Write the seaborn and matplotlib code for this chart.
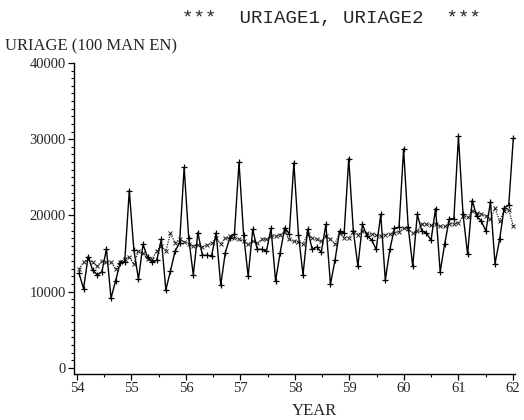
import numpy as np
import pandas as pd
import matplotlib
matplotlib.use("Agg")
import matplotlib.pyplot as plt
import seaborn as sns
from matplotlib.ticker import MultipleLocator

# monthly sales, 96 months from year 54 to 62 (100 man en)
uriage1 = [
    12400, 10400, 14600, 12800, 12200, 12600, 15600, 9150, 11400, 13800, 13950, 23260,
    15500, 11630, 16200, 14500, 13950, 14100, 16860, 10240, 12700, 15300, 16400, 26300,
    17000, 12200, 17730, 14770, 14770, 14700, 17730, 10850, 15120, 17080, 17600, 26960,
    17500, 12020, 18170, 15550, 15550, 15330, 18300, 11410, 15120, 18380, 17600, 26870,
    17500, 12200, 18170, 15550, 15860, 15200, 18820, 10980, 14150, 17950, 17730, 27450,
    18000, 13370, 18820, 17300, 16800, 15550, 20130, 11540, 15550, 18300, 18470, 28710,
    18500, 13370, 20130, 17950, 17700, 16730, 20910, 12600, 16300, 19560, 19560, 30360,
    20130, 14900, 21960, 19900, 19250, 17950, 21790, 13680, 16860, 21000, 21350, 30150,
]
uriage2 = [
    13000, 13900, 14300, 13850, 13370, 14000, 13900, 13900, 12940, 13900, 14330, 14550,
    13600, 15330, 15030, 14250, 14300, 15330, 16000, 15330, 17640, 16430, 16860, 16560,
    16300, 16000, 16100, 15900, 16100, 16400, 17000, 16300, 17000, 17300, 17100, 16860,
    16650, 16200, 16650, 16350, 16860, 16860, 17300, 17300, 17500, 17860, 16860, 16640,
    16560, 16300, 17510, 17080, 16860, 16650, 17300, 16860, 16300, 17730, 17080, 17080,
    17860, 17500, 17950, 17730, 17510, 17500, 17300, 17500, 17600, 17730, 17860, 18300,
    18170, 17730, 18000, 18900, 18900, 18700, 18900, 18600, 18600, 18900, 18900, 19040,
    19900, 19800, 20650, 20350, 20200, 19950, 19470, 21000, 19250, 20560, 20780, 18600,
]
year_ticks = [54, 55, 56, 57, 58, 59, 60, 61, 62]
y_ticks = [0, 10000, 20000, 30000, 40000]

month = np.arange(len(uriage1))
df = pd.DataFrame({
    "year": 54.037 + month * 0.0839,
    "uriage1": uriage1,
    "uriage2": uriage2,
})

sns.set_style("ticks")
plt.rcParams["font.family"] = ["Liberation Serif", "DejaVu Serif"]

fig = plt.figure(figsize=(5.24, 4.2), dpi=100)
ax = fig.add_axes([0.1412, 0.1095, 0.8418, 0.7405])

sns.lineplot(data=df, x="year", y="uriage2", ax=ax, color="#222222",
             linestyle=(0, (1, 1)), linewidth=0.9, marker="x", markersize=2.6,
             markeredgewidth=0.7, markeredgecolor="#222222")
sns.lineplot(data=df, x="year", y="uriage1", ax=ax, color="black",
             linewidth=1.0, marker="+", markersize=4.5, markeredgewidth=0.9,
             markeredgecolor="black")

ax.set_xlim(53.945, 62.04)
ax.set_ylim(-800, 40000)
ax.set_xticks(year_ticks)
ax.set_yticks(y_ticks)
ax.xaxis.set_minor_locator(MultipleLocator(0.5))
ax.yaxis.set_minor_locator(MultipleLocator(1000))
ax.tick_params(axis="both", which="major", labelsize=10.5, length=4,
               width=0.9, color="black", pad=2)
ax.tick_params(axis="both", which="minor", length=2, width=0.8, color="black")
ax.set_xlabel("")
ax.set_ylabel("")
for side in ["top", "right"]:
    ax.spines[side].set_visible(False)
for side in ["left", "bottom"]:
    ax.spines[side].set_linewidth(1.0)
    ax.spines[side].set_color("black")

fig.text(0.633, 0.957, "***  URIAGE1, URIAGE2  ***", ha="center", va="center",
         fontsize=13.8, family=["Liberation Mono", "DejaVu Sans Mono"])
fig.text(0.01, 0.89, "URIAGE (100 MAN EN)", ha="left", va="center", fontsize=12)
fig.text(0.60, 0.022, "YEAR", ha="center", va="center", fontsize=12)

fig.savefig("out.png", dpi=100)
